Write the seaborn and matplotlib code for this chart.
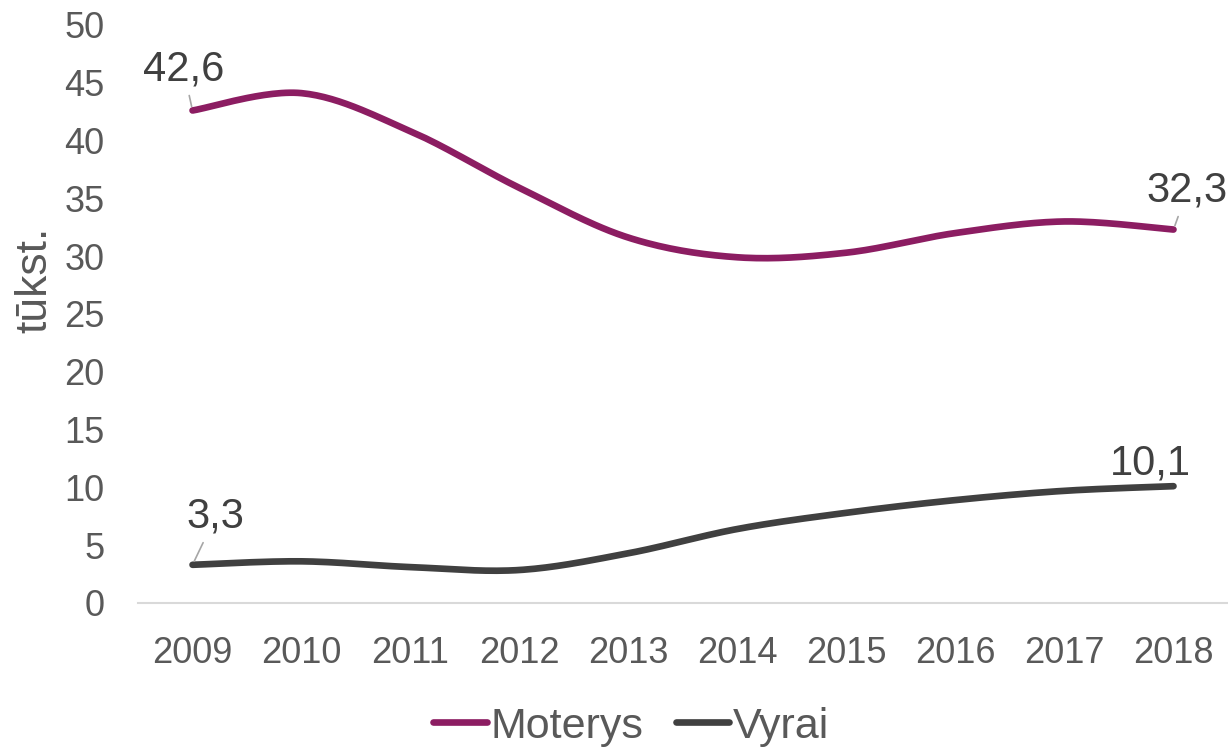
import numpy as np
import pandas as pd
import matplotlib
matplotlib.use("Agg")
import matplotlib.pyplot as plt
import seaborn as sns

# Data (thousands)
years = [2009, 2010, 2011, 2012, 2013, 2014, 2015, 2016, 2017, 2018]
moterys = [42.6, 44.1, 40.8, 35.9, 31.6, 29.9, 30.3, 32.0, 33.0, 32.3]
vyrai = [3.3, 3.6, 3.1, 2.85, 4.3, 6.4, 7.8, 8.9, 9.7, 10.1]

col_moterys = '#8C1D62'
col_vyrai = '#404040'
tick_col = '#595959'


def smooth_curve(values, n=30):
    """
    Excel-like smoothed line: cubic Bezier segments through every point
    (Catmull-Rom control points). Returns x positions and y values.
    """
    pts = np.column_stack([np.arange(len(values), dtype=float), np.asarray(values, float)])
    padded = np.vstack([pts[0], pts, pts[-1]])
    xs, ys = [], []
    t = np.linspace(0, 1, n)[:, None]
    for i in range(len(pts) - 1):
        p0 = padded[i + 1]
        p3 = padded[i + 2]
        p1 = p0 + (padded[i + 2] - padded[i]) / 6.0
        p2 = p3 - (padded[i + 3] - padded[i + 1]) / 6.0
        seg = ((1 - t) ** 3) * p0 + 3 * ((1 - t) ** 2) * t * p1 + 3 * (1 - t) * t ** 2 * p2 + t ** 3 * p3
        if i > 0:
            seg = seg[1:]
        xs.append(seg[:, 0])
        ys.append(seg[:, 1])
    return np.concatenate(xs), np.concatenate(ys)


sns.set_theme(style="white")
plt.rcParams['font.family'] = ['Liberation Sans', 'DejaVu Sans']

fig = plt.figure(figsize=(12.28, 7.49), dpi=100)
ax = fig.add_axes([0.1124, 0.195, 0.8876, 0.7717])

for name, vals, color in [('Moterys', moterys, col_moterys), ('Vyrai', vyrai, col_vyrai)]:
    sx, sy = smooth_curve(vals)
    df = pd.DataFrame({'x': sx, 'y': sy})
    sns.lineplot(data=df, x='x', y='y', sort=False, color=color, lw=4.8,
                 solid_capstyle='round', label=name, ax=ax, legend=False)

ax.set_xlim(-0.5, len(years) - 0.5)
ax.set_ylim(0, 50)
ax.set_yticks(np.arange(0, 51, 5))
ax.set_xticks(range(len(years)))
ax.set_xticklabels([str(y) for y in years])
ax.set_xlabel('')
ax.set_ylabel('')
ax.tick_params(axis='y', length=0, pad=24, labelsize=26, labelcolor=tick_col)
ax.tick_params(axis='x', length=0, pad=24, labelsize=26, labelcolor=tick_col)

for side in ['top', 'right', 'left']:
    ax.spines[side].set_visible(False)
ax.spines['bottom'].set_color('#D9D9D9')
ax.spines['bottom'].set_linewidth(1.5)

fig.text(0.028, 1 - 280 / 749, 'tūkst.', rotation=90, ha='center', va='center',
         fontsize=32, color=tick_col)

# Data labels for first and last points
leader = dict(arrowstyle='-', color='#A6A6A6', lw=1.2, shrinkA=2, shrinkB=3)
label_specs = [
    (0, moterys[0], (-6.5, 29.5), True),
    (len(years) - 1, moterys[-1], (10, 28), True),
    (0, vyrai[0], (16.5, 34.5), True),
    (len(years) - 1, vyrai[-1], (-16.5, 16), False),
]
for x, y, off, with_line in label_specs:
    ax.annotate(f'{y:.1f}'.replace('.', ','), xy=(x, y), xytext=off,
                textcoords='offset points', ha='center', va='center',
                fontsize=30, color='#404040',
                arrowprops=leader if with_line else None)

handles, labels = ax.get_legend_handles_labels()
fig.legend(handles, labels, loc='center', bbox_to_anchor=(0.514, 0.03), ncol=2,
           frameon=False, fontsize=31, handlelength=1.25, handletextpad=0.08,
           columnspacing=0.75, labelcolor=tick_col)

fig.savefig('out.png', dpi=100)
